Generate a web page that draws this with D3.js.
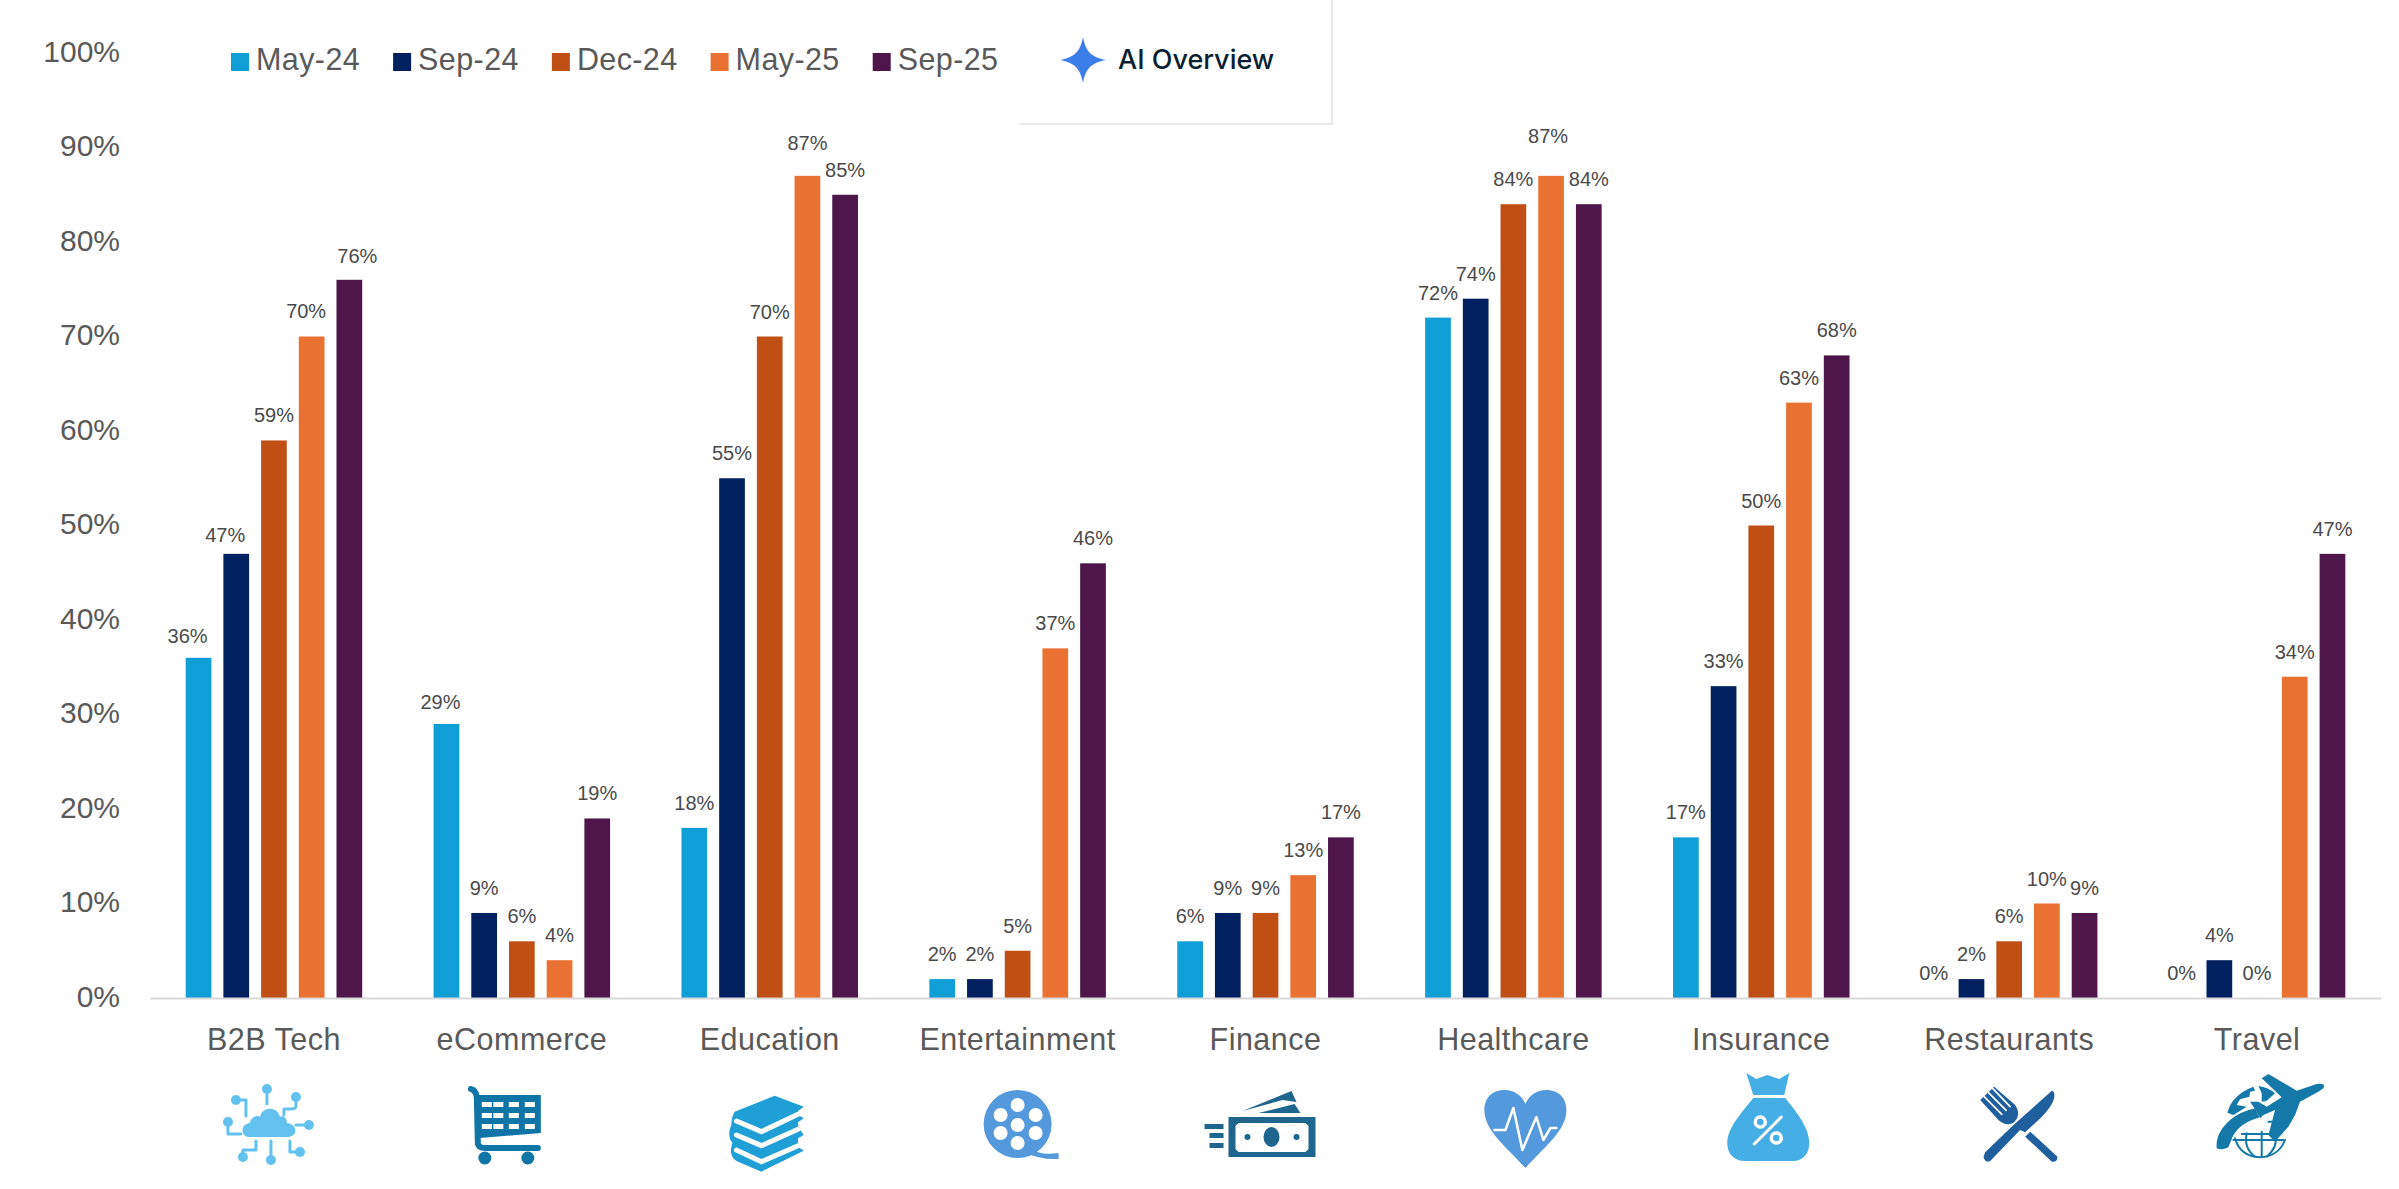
<!DOCTYPE html>
<html>

<head>
    <meta charset="utf-8">
    <script src="https://d3js.org/d3.v7.min.js"></script>
    <style>
        body { margin: 0; background: #fff; }
        text { font-family: "Liberation Sans", Arial, sans-serif; }
    </style>
</head>

<body>

<svg width="2399" height="1189"></svg>

<script>
    const categories = ["B2B Tech", "eCommerce", "Education", "Entertainment", "Finance", "Healthcare", "Insurance", "Restaurants", "Travel"];
    const periods = ["May-24", "Sep-24", "Dec-24", "May-25", "Sep-25"];

    const may24 = [36, 29, 18, 2, 6, 72, 17, 0, 0];
    const sep24 = [47, 9, 55, 2, 9, 74, 33, 2, 4];
    const dec24 = [59, 6, 70, 5, 9, 84, 50, 6, 0];
    const may25 = [70, 4, 87, 37, 13, 87, 63, 10, 34];
    const sep25 = [76, 19, 85, 46, 17, 84, 68, 9, 47];
    const seriesValues = [may24, sep24, dec24, may25, sep25];

    const yTicks = [0, 10, 20, 30, 40, 50, 60, 70, 80, 90, 100];

    const colors = ["#0f9ed5", "#002060", "#c04f15", "#e97132", "#4e164a"];

    const svg = d3.select("svg");

    const x = d3.scaleBand().domain(categories).range([150, 2381]);
    const xInner = d3.scaleBand().domain(periods).range([-88.25, 88.25]).paddingInner(0.318);
    const y = d3.scaleLinear().domain([0, 100]).range([998, 53]);

    // y axis, labels only
    const yAxis = svg.append("g")
        .attr("transform", "translate(150,0)")
        .call(d3.axisLeft(y).tickValues(yTicks).tickFormat(d => d + "%").tickSize(0).tickPadding(30));
    yAxis.select(".domain").remove();
    yAxis.selectAll("text")
        .attr("font-size", 30)
        .attr("fill", "#595959")
        .attr("dy", "0.28em")
        .style("font-family", "'Liberation Sans'");

    // bars and value labels
    // hand placed labels in the original: [category, period, dx, dy]
    const labelMoves = [
        ["B2B Tech", "May-24", -11, 3],
        ["B2B Tech", "Sep-24", -11, 6],
        ["B2B Tech", "May-25", -5.5, -1],
        ["B2B Tech", "Sep-25", 8, 1],
        ["eCommerce", "May-24", -6, 3],
        ["Education", "May-25", 0, -8],
        ["Healthcare", "May-25", -3, -15]
    ];

    const barData = [];
    periods.forEach((p, i) => {
        categories.forEach((c, j) => {
            const move = labelMoves.find(m => m[0] === c && m[1] === p) || [c, p, 0, 0];
            barData.push({category: c, period: p, value: seriesValues[i][j], color: colors[i], dx: move[2], dy: move[3]});
        });
    });

    const barCenter = d => x(d.category) + x.bandwidth() / 2 + xInner(d.period);

    svg.append("g")
        .selectAll("rect")
        .data(barData)
        .enter()
        .append("rect")
        .attr("x", d => barCenter(d))
        .attr("y", d => y(d.value))
        .attr("width", xInner.bandwidth())
        .attr("height", d => y(0) - y(d.value))
        .attr("fill", d => d.color);

    svg.append("g")
        .selectAll("text")
        .data(barData)
        .enter()
        .append("text")
        .attr("x", d => barCenter(d) + xInner.bandwidth() / 2 + d.dx)
        .attr("y", d => y(d.value) - 25 + d.dy)
        .attr("dy", "0.35em")
        .attr("text-anchor", "middle")
        .attr("font-size", 20)
        .attr("fill", "#4a4a4a")
        .text(d => d.value + "%");

    // x axis
    const xAxis = svg.append("g")
        .attr("transform", `translate(0,${y(0)})`)
        .call(d3.axisBottom(x).tickSize(0).tickPadding(30));
    xAxis.select(".domain").attr("stroke", "#d9d9d9").attr("stroke-width", 2);
    xAxis.selectAll("text")
        .attr("font-size", 30.5)
        .attr("fill", "#595959")
        .style("letter-spacing", "0.5px")
        .style("font-family", "'Liberation Sans'");

    // legend
    const legend = svg.append("g");
    let legendX = 231;
    periods.forEach((p, i) => {
        legend.append("rect")
            .attr("x", legendX)
            .attr("y", 53)
            .attr("width", 18)
            .attr("height", 18)
            .attr("fill", colors[i]);
        const label = legend.append("text")
            .attr("x", legendX + 25)
            .attr("y", 70)
            .attr("font-size", 30.5)
            .attr("fill", "#595959")
            .style("letter-spacing", "0.4px")
            .text(p);
        legendX += 25 + label.node().getComputedTextLength() + 33;
    });

    // AI Overview badge
    const badge = svg.append("g");
    badge.append("path")
        .attr("d", "M1020 124H1332V0")
        .attr("fill", "none")
        .attr("stroke", "#e3e3e3")
        .attr("stroke-width", 1.5);
    badge.append("path")
        .attr("transform", "translate(1083,60)")
        .attr("d", "M0 -23C3 -8 8 -3 23 0C8 3 3 8 0 23C-3 8 -8 3 -23 0C-8 -3 -3 -8 0 -23Z")
        .attr("fill", "#3b7de9");
    badge.append("text")
        .attr("x", 1118)
        .attr("y", 69)
        .attr("font-size", 27)
        .attr("font-weight", 500)
        .attr("fill", "#0b1f33")
        .style("font-family", "Inter")
        .text("AI Overview");

    // category icons, each one drawn in its own small box
    function icon(category, dx, top, color, scale = 1) {
        return svg.append("g")
            .attr("class", "icon")
            .attr("transform", `translate(${x(category) + x.bandwidth() / 2 + dx},${top}) scale(${scale})`)
            .attr("fill", color)
            .attr("stroke", "none");
    }
    function line(g, d, color, width) {
        g.append("path").attr("d", d).attr("fill", "none").attr("stroke", color).attr("stroke-width", width)
            .attr("stroke-linecap", "round").attr("stroke-linejoin", "round");
    }

    // cloud
    const cloud = icon("B2B Tech", -50, 1084, "#63c1f0");
    cloud.append("path").attr("d", "M26 53C16 53 16 40 26 39C27 32 34 31 36 33C38 22 54 22 56 33C58 31 63 33 63 39C74 40 74 53 64 53Z");
    ["M43 4V20", "M12 16H22V32", "M72 13V22Q72 25 66 25H60V31", "M4 38V50H17", "M85 41H72", "M47 76V57", "M19 73V66H32V57", "M76 68H66V57"]
        .forEach(d => line(cloud, d, "#63c1f0", 3));
    [[43, 5], [12, 16], [72, 13], [4, 38], [85, 41], [47, 76], [19, 73], [76, 68]]
        .forEach(n => cloud.append("circle").attr("cx", n[0]).attr("cy", n[1]).attr("r", 5));

    // cart
    const cart = icon("eCommerce", -54, 1085, "#0f74a6");
    cart.append("path").attr("d", "M10 10H73V48L12 53Z");
    line(cart, "M3 4Q8 5 9 12L10 58Q10 63 18 63H70", "#0f74a6", 6);
    [17, 28.5, 44, 60].forEach(hx => [17, 28, 39].forEach(hy =>
        cart.append("rect").attr("x", hx - 3).attr("y", hy).attr("width", 10).attr("height", 5).attr("fill", "#fff")));
    cart.append("circle").attr("cx", 17).attr("cy", 73).attr("r", 6.5);
    cart.append("circle").attr("cx", 60).attr("cy", 73).attr("r", 6.5);

    // books
    const books = icon("Education", -50, 1085, "#1f9fd6", 1 / 3);
    books.append("path").attr("d", "M165 32L252 65L235 78V90L252 100L235 112V125L252 150L235 160V185L252 197L125 260L50 228Q25 210 38 175Q20 150 35 120Q35 95 45 80Z");
    ["M50 108L125 140L235 88", "M50 150L125 182L235 133", "M50 195L125 230L235 182"].forEach(d => line(books, d, "#fff", 15));

    // film reel
    const reel = icon("Entertainment", -34, 1090, "#5399db");
    reel.append("circle").attr("cx", 34).attr("cy", 34).attr("r", 34);
    reel.append("path").attr("d", "M46 58Q56 66 75 63V69Q56 70 40 62Z");
    [[34, 15], [17, 25], [52, 25], [17, 43], [52, 43], [34, 53], [34, 35]]
        .forEach(h => reel.append("circle").attr("cx", h[0]).attr("cy", h[1]).attr("r", 7).attr("fill", "#fff"));

    // money
    const money = icon("Finance", -61, 1090, "#1f668f");
    money.append("rect").attr("x", 24).attr("y", 27).attr("width", 87).attr("height", 40);
    money.append("path").attr("d", "M34 33H101L104 36V59L101 62H34L31 59V36Z").attr("fill", "#fff");
    money.append("ellipse").attr("cx", 67).attr("cy", 47).attr("rx", 8).attr("ry", 10);
    money.append("circle").attr("cx", 43).attr("cy", 47).attr("r", 3);
    money.append("circle").attr("cx", 92).attr("cy", 47).attr("r", 3);
    [[0, 34], [5, 43], [5, 53]].forEach(s =>
        money.append("rect").attr("x", s[0]).attr("y", s[1]).attr("width", 19 - s[0]).attr("height", 5));
    money.append("path").attr("d", "M38 21L87 1L92 12L78 10Z");
    money.append("path").attr("d", "M54 23L90 14L96 23Z");

    // heart
    const heart = icon("Healthcare", -29, 1090, "#5399db");
    heart.append("path").attr("d", "M41 78C20 55 0 40 0 20C0 6 10 0 20 0C30 0 38 6 41 14C44 6 52 0 62 0C72 0 82 6 82 20C82 40 62 55 41 78Z");
    line(heart, "M10 40H21L29 18L38 60L52 27L59 50L66 38H72", "#fff", 2.5);

    // money bag
    const bag = icon("Insurance", -34, 1073, "#45aee5");
    bag.append("path").attr("d", "M19 0L29 6L40 2L52 6L62 0L57 22H26Z");
    bag.append("path").attr("d", "M26 25H58C70 40 82 55 82 70C82 82 74 88 66 88H18C8 88 0 82 0 70C0 55 14 40 26 25Z");
    line(bag, "M54 44L27 71", "#fff", 3);
    bag.append("circle").attr("cx", 33).attr("cy", 49).attr("r", 5).attr("fill", "none").attr("stroke", "#fff").attr("stroke-width", 3.5);
    bag.append("circle").attr("cx", 49).attr("cy", 65).attr("r", 5).attr("fill", "none").attr("stroke", "#fff").attr("stroke-width", 3.5);

    // fork and knife
    const cutlery = icon("Restaurants", -39, 1075, "#1f5f9e", 1 / 3);
    cutlery.append("path").attr("d", "M245 47Q255 48 252 70Q245 95 215 125L165 172L150 165L60 258Q45 265 40 245L45 232L130 150Z");
    cutlery.append("path").attr("d", "M180 170L262 245Q262 262 245 260L165 185Z");
    cutlery.append("path").attr("d", "M30 75L72 35L135 90Q155 120 130 143Q105 155 85 135Z");
    ["M42 65L95 118", "M55 53L108 106", "M68 41L120 95"].forEach(d => line(cutlery, d, "#fff", 5));

    // globe and plane
    const travel = icon("Travel", -57, 1060, "#1479a8", 1 / 3);
    travel.append("path").attr("d", "M50 265Q45 220 90 180Q120 155 165 145L178 172Q120 190 100 225L85 262Q65 272 50 265Z");
    travel.append("path").attr("d", "M82 158Q95 105 160 80L165 92L150 95L148 110L120 118L110 135L140 140L100 165Z");
    travel.append("path").attr("d", "M175 78Q205 82 225 100L200 122L185 125L185 100Z");
    ["M105 235Q120 290 180 292Q235 290 255 240", "M100 240H250", "M125 222H222", "M185 215V290", "M140 220Q130 265 165 290", "M225 225Q235 260 200 290", "M235 170V225", "M205 185H250"]
        .forEach(d => line(travel, d, "#1479a8", 6));
    travel.append("path").attr("d", "M372 75Q375 85 355 95L300 125L285 165L265 200L225 245L205 225L225 150L190 165L180 175L170 155L150 125L175 125L200 140L245 112L185 55L205 42L290 92L350 72Q365 70 372 75Z");
</script>

</body>

</html>
